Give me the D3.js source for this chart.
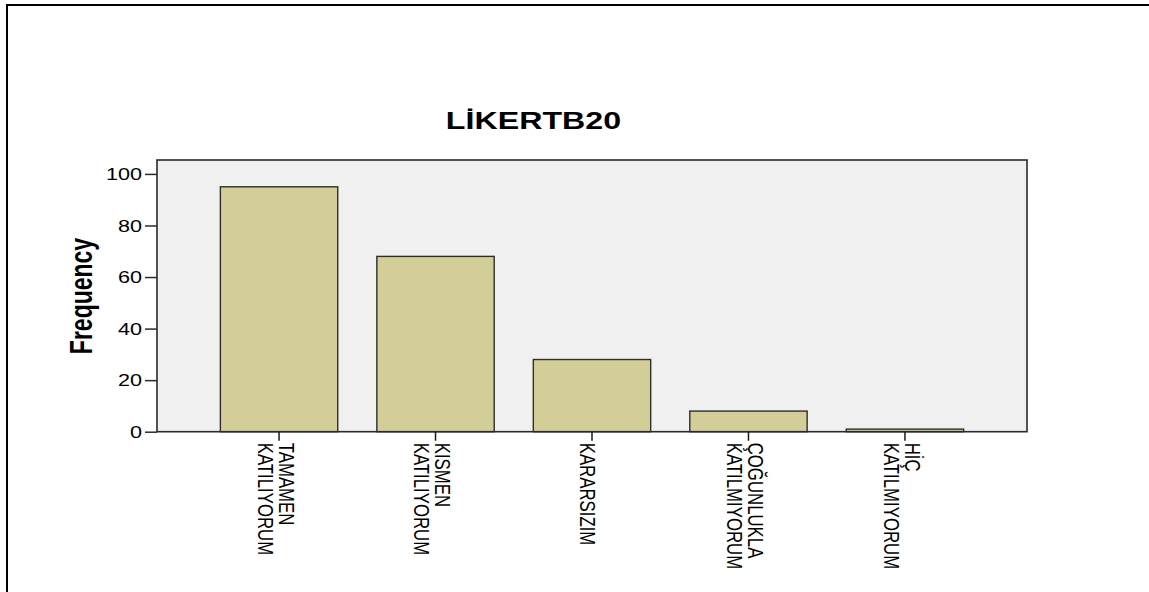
<!DOCTYPE html>
<html>
<head>
<meta charset="utf-8">
<script src="https://cdn.jsdelivr.net/npm/d3@7"></script>
<style>
  html, body { margin: 0; padding: 0; background: #ffffff; }
  svg { display: block; }
  text { font-family: "Liberation Sans", Arial, sans-serif; fill: #000; }
</style>
</head>
<body>
<svg id="chart" width="1149" height="592"></svg>
<script>
// ---- data ----
const categories = [
  ["TAMAMEN", "KATILIYORUM"],
  ["KISMEN", "KATILIYORUM"],
  ["KARARSIZIM"],
  ["ÇOĞUNLUKLA", "KATILMIYORUM"],
  ["HİÇ", "KATILMIYORUM"]
];
const frequencies = [95, 68, 28, 8, 1];
const yTicks = [0, 20, 40, 60, 80, 100];
const titleText = "LİKERTB20";
const yLabel = "Frequency";

// ---- layout ----
const svg = d3.select("#chart");
const plot = { left: 157, right: 1027, top: 160, bottom: 431.7 };
const sx = 1.35; // horizontal stretch of text in the reference

// outer frame (top and left edges)
svg.append("line").attr("x1", 7).attr("x2", 1149).attr("y1", 5).attr("y2", 5)
  .attr("stroke", "#000").attr("stroke-width", 2);
svg.append("line").attr("x1", 7).attr("x2", 7).attr("y1", 4).attr("y2", 592)
  .attr("stroke", "#000").attr("stroke-width", 2);

const keys = categories.map(d => d.join(" "));
const x = d3.scaleBand().domain(keys).range([plot.left, plot.right])
  .paddingInner(0.25).paddingOuter(0.405);
const y = d3.scaleLinear().domain([0, 105.4]).range([plot.bottom, plot.top]);

// plot background
svg.append("rect")
  .attr("x", plot.left).attr("y", plot.top)
  .attr("width", plot.right - plot.left).attr("height", plot.bottom - plot.top)
  .attr("fill", "#f0f0f0");

// bars
svg.append("g").selectAll("rect").data(frequencies).join("rect")
  .attr("x", (d, i) => x(keys[i]))
  .attr("y", d => y(d))
  .attr("width", x.bandwidth())
  .attr("height", d => y(0) - y(d))
  .attr("fill", "#d3ce97")
  .attr("stroke", "#2e2e2e")
  .attr("stroke-width", 1.4);

// plot frame
svg.append("rect")
  .attr("x", plot.left).attr("y", plot.top)
  .attr("width", plot.right - plot.left).attr("height", plot.bottom - plot.top)
  .attr("fill", "none").attr("stroke", "#2a2a2a").attr("stroke-width", 1.6);

// y axis
const yAxis = svg.append("g").attr("transform", `translate(${plot.left},0)`)
  .call(d3.axisLeft(y).tickValues(yTicks).tickSize(12).tickFormat(d3.format("d")));
yAxis.select(".domain").remove();
yAxis.selectAll(".tick line").attr("stroke", "#2a2a2a").attr("stroke-width", 1.5);
yAxis.selectAll(".tick text")
  .attr("x", 0).attr("dy", "0.36em")
  .attr("transform", `translate(-15,0) scale(${sx},1)`)
  .style("font-size", "16px").attr("fill", "#000").attr("text-anchor", "end");

// x axis
const xAxis = svg.append("g").attr("transform", `translate(0,${plot.bottom})`)
  .call(d3.axisBottom(x).tickSize(9).tickFormat(""));
xAxis.select(".domain").remove();
xAxis.selectAll(".tick line").attr("stroke", "#1a1a1a").attr("stroke-width", 1.5);

const lineH = 15.5;
const xl = svg.append("g");
categories.forEach((lines, i) => {
  const cx = x(keys[i]) + x.bandwidth() / 2;
  const first = 8.8 - (lines.length - 1) * 8.6;
  const t = xl.append("text")
    .attr("transform", `translate(${cx},${plot.bottom + 11}) scale(${sx},1) rotate(90)`)
    .attr("text-anchor", "start")
    .style("font-size", "16.8px");
  lines.forEach((s, j) => {
    t.append("tspan").attr("x", 0).attr("y", first + j * lineH).text(s);
  });
});

// y label
svg.append("text")
  .attr("transform", `translate(92,296) scale(${sx},1) rotate(-90)`)
  .attr("text-anchor", "middle")
  .style("font-size", "23px").style("font-weight", "bold")
  .text(yLabel);

// title
svg.append("text")
  .attr("transform", `translate(533.5,128.5) scale(1.4,1)`)
  .attr("text-anchor", "middle")
  .style("font-size", "23px").style("font-weight", "bold")
  .text(titleText);
</script>
</body>
</html>
